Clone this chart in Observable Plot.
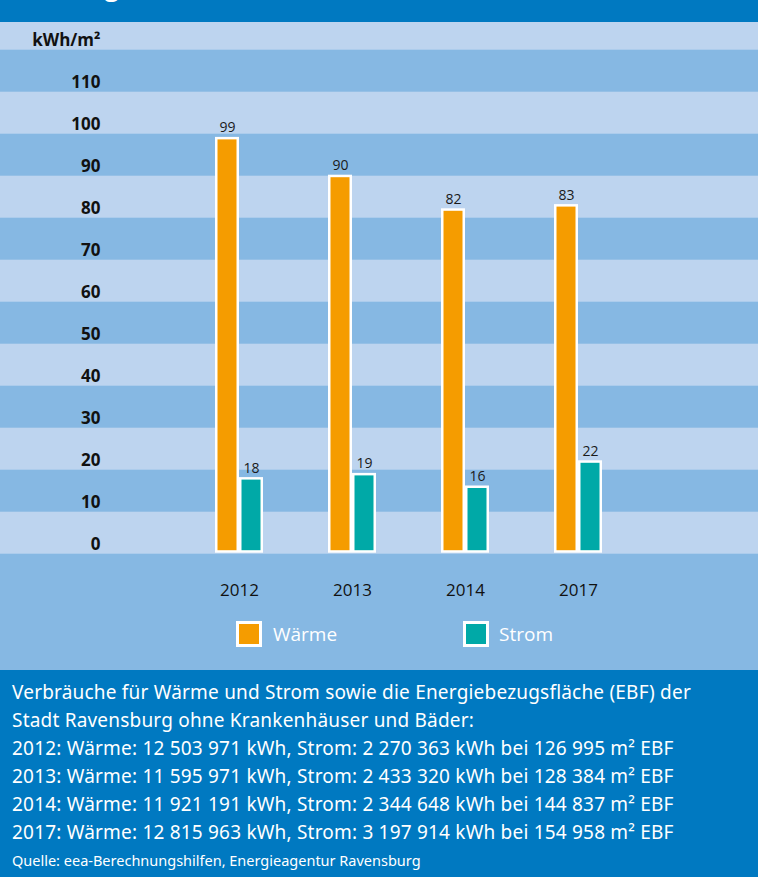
<!DOCTYPE html>
<html><head><meta charset="utf-8">
<script src="https://cdn.jsdelivr.net/npm/d3@7"></script>
<script src="https://cdn.jsdelivr.net/npm/@observablehq/plot@0.6"></script>
<style>
html,body{margin:0;padding:0;background:#0079C1;}
body{width:758px;height:877px;overflow:hidden;font-family:"Open Sans",sans-serif;}
#header{height:22px;position:relative;overflow:hidden;background:#0079C1;}
#header span{position:absolute;left:12px;top:-27px;line-height:26px;font-size:25px;font-weight:bold;color:#fff;white-space:nowrap;}
#chart svg{display:block;overflow:hidden;}
#legend{height:60px;background:#86B8E3;position:relative;}
.sw{position:absolute;top:11px;width:20px;height:20px;border:3px solid #fff;}
.lt{position:absolute;top:15px;line-height:19px;font-size:19px;color:#fff;white-space:nowrap;}
#footer{color:#fff;padding:9.4px 0 0 12px;font-family:"Noto Sans",sans-serif;font-size:19px;line-height:27.86px;letter-spacing:0.2px;}
#footer div{white-space:nowrap;}
#footer .src{font-size:14.5px;line-height:26px;letter-spacing:0;}
</style>
</head><body>
<div id="header"><span id="title"></span></div>
<div id="chart"></div>
<div id="legend"></div>
<div id="footer"></div>
<script>
const titleText = "Nutzung (kWh/m²)";
const years = ["2012", "2013", "2014", "2017"];
const waerme = [99, 90, 82, 83];
const strom = [18, 19, 16, 22];
const seriesNames = ["Wärme", "Strom"];
const seriesColors = ["#F59C00", "#00A9A7"];
const yTicks = [0, 10, 20, 30, 40, 50, 60, 70, 80, 90, 100, 110, 120];
const yTickLabels = ["0", "10", "20", "30", "40", "50", "60", "70", "80", "90", "100", "110", "kWh/m²"];
const footerLines = [
  "Verbräuche für Wärme und Strom sowie die Energiebezugsfläche (EBF) der",
  "Stadt Ravensburg ohne Krankenhäuser und Bäder:",
  "2012: Wärme: 12 503 971 kWh, Strom: 2 270 363 kWh bei 126 995 m² EBF",
  "2013: Wärme: 11 595 971 kWh, Strom: 2 433 320 kWh bei 128 384 m² EBF",
  "2014: Wärme: 11 921 191 kWh, Strom: 2 344 648 kWh bei 144 837 m² EBF",
  "2017: Wärme: 12 815 963 kWh, Strom: 3 197 914 kWh bei 154 958 m² EBF"
];
const sourceText = "Quelle: eea-Berechnungshilfen, Energieagentur Ravensburg";

document.getElementById("title").textContent = titleText;

const rowsW = years.map((y, i) => ({year: y, value: waerme[i]}));
const rowsS = years.map((y, i) => ({year: y, value: strom[i]}));
const stripes = yTicks.filter((t, i) => i % 2 === 0).map(t => ({y1: t, y2: t + 10}));

const chart = Plot.plot({
  width: 758,
  height: 588,
  marginTop: 26.7,
  marginBottom: 57.3,
  marginLeft: 0,
  marginRight: 0,
  style: {background: "#86B8E3", fontFamily: "'Open Sans', sans-serif", overflow: "hidden"},
  x: {type: "band", domain: years, paddingInner: 0.78836, paddingOuter: 1.7363, align: 0.5739, axis: null},
  y: {domain: [0, 120], axis: null},
  marks: [
    Plot.rect(stripes, {y1: "y1", y2: "y2", fill: "#BDD4EF", dy: 1}),
    Plot.barY(rowsW, {x: "year", y: "value", fill: seriesColors[0], stroke: "#fff", strokeWidth: 2.5, inset: 1.25, dx: -12}),
    Plot.barY(rowsS, {x: "year", y: "value", fill: seriesColors[1], stroke: "#fff", strokeWidth: 2.5, inset: 1.25, dx: 12}),
    Plot.text(yTicks, {y: d => d, text: (d, i) => yTickLabels[i], frameAnchor: "left", dx: 100, textAnchor: "end", lineAnchor: "bottom", dy: -3.5, fontSize: 17, fontWeight: "bold", fill: "#111"}),
    Plot.text(rowsW, {x: "year", y: "value", text: d => String(d.value), dx: -12, dy: -5, lineAnchor: "bottom", fontSize: 14, fill: "#1a1a1a"}),
    Plot.text(rowsS, {x: "year", y: "value", text: d => String(d.value), dx: 12, dy: -5, lineAnchor: "bottom", fontSize: 14, fill: "#1a1a1a"}),
    Plot.text(years, {x: d => d, text: d => d, frameAnchor: "bottom", lineAnchor: "bottom", dy: 43, fontSize: 17, fill: "#111"})
  ]
});
document.getElementById("chart").appendChild(chart);

const legend = document.getElementById("legend");
const legendPos = [[236, 273], [463, 499]];
seriesNames.forEach((name, i) => {
  const sw = document.createElement("div");
  sw.className = "sw";
  sw.style.left = legendPos[i][0] + "px";
  sw.style.background = seriesColors[i];
  legend.appendChild(sw);
  const t = document.createElement("div");
  t.className = "lt";
  t.style.left = legendPos[i][1] + "px";
  t.textContent = name;
  legend.appendChild(t);
});

const footer = document.getElementById("footer");
footerLines.forEach(l => {
  const d = document.createElement("div");
  d.textContent = l;
  footer.appendChild(d);
});
const src = document.createElement("div");
src.className = "src";
src.textContent = sourceText;
footer.appendChild(src);
</script>
</body></html>
